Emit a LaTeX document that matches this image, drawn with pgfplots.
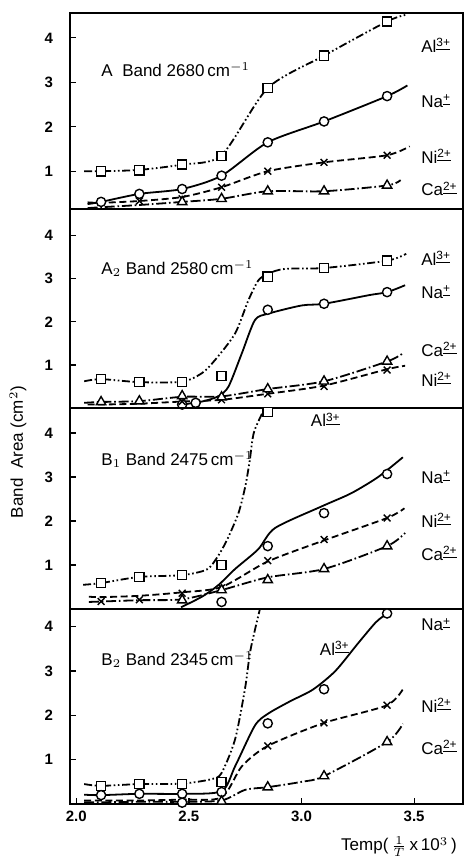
\documentclass[border=0pt]{standalone}
\usepackage{pgfplots}
\pgfplotsset{compat=1.18}
\usepackage{fontspec}
\setmainfont{Liberation Sans}

\pgfplotsset{
  panel/.style={
    scale only axis, width=196.5pt,
    xmin=1.972, xmax=3.717,
    ytick={1,2,3,4}, ytick pos=left, tick align=inside,
    major tick length=3pt,
    yticklabel style={font=\fontsize{7.5}{8}\selectfont\bfseries, xshift=-5pt},
    /pgf/number format/assume math mode=true,
    axis line style={line width=0.9pt},
    every tick/.style={line width=0.6pt, black},
    clip=true,
  },
  curve/.style={line width=0.9pt, smooth, tension=0.45, no marks},
  al/.style={dash pattern=on 4pt off 1.3pt on 0.8pt off 1.3pt on 0.8pt off 1.3pt},
  na/.style={solid},
  ni/.style={dash pattern=on 3.5pt off 1.8pt},
  ca/.style={dash pattern=on 5pt off 1.4pt on 0.8pt off 1.4pt},
  pts/.style={only marks, mark options={solid, fill=white, line width=0.7pt}},
  sq/.style={pts, mark=square*, mark size=2.3pt},
  ci/.style={pts, mark=*, mark size=2.3pt},
  tr/.style={pts, mark=triangle*, mark size=2.7pt},
  cr/.style={pts, mark=x, mark size=2.4pt},
}
\tikzset{lab/.style={anchor=west, font=\fontsize{8.5}{10}\selectfont, inner sep=0pt}}

\newcommand{\ion}[2]{#1\textsuperscript{\underline{#2}}}

\begin{document}
\begin{tikzpicture}
\path[use as bounding box] (-35pt,6.5pt) rectangle (198.5pt,-426.5pt);

%% Panel A
\begin{axis}[panel, at={(0,0)}, anchor=north west, height=98pt,
  ymin=0.15, ymax=4.56, xtick=\empty]
\addplot[curve, al] table {
2.035 1.00
2.11 1.00
2.28 1.03
2.47 1.15
2.645 1.36
2.85 2.87
3.10 3.60
3.38 4.37
3.465 4.52
};
\addplot[sq] table {
2.11 1.00
2.28 1.02
2.47 1.15
2.645 1.34
2.85 2.87
3.10 3.60
3.38 4.37
};
\addplot[curve, na] table {
2.05 0.26
2.11 0.31
2.28 0.49
2.47 0.60
2.645 0.90
2.85 1.65
3.10 2.12
3.38 2.69
3.47 2.93
};
\addplot[ci] table {
2.11 0.31
2.28 0.49
2.47 0.60
2.645 0.90
2.85 1.65
3.10 2.12
3.38 2.69
};
\addplot[curve, ni] table {
2.05 0.30
2.11 0.29
2.28 0.33
2.47 0.42
2.645 0.64
2.85 1.00
3.10 1.20
3.38 1.36
3.48 1.56
};
\addplot[cr] table {
2.28 0.33
2.47 0.38
2.645 0.64
2.85 1.00
3.10 1.20
3.38 1.36
};
\addplot[curve, ca] table {
2.05 0.17
2.11 0.19
2.28 0.24
2.47 0.31
2.645 0.38
2.85 0.55
3.10 0.55
3.38 0.68
3.44 0.80
};
\addplot[tr] table {
2.47 0.31
2.645 0.38
2.85 0.55
3.10 0.55
3.38 0.68
};
\node[lab] at (axis cs:2.11,3.28) {A\ \ Band 2680\,cm$^{-1}$};
\node[lab] at (axis cs:3.53,3.84) {\ion{Al}{3+}};
\node[lab] at (axis cs:3.53,2.57) {\ion{Na}{+}};
\node[lab] at (axis cs:3.53,1.34) {\ion{Ni}{2+}};
\node[lab] at (axis cs:3.53,0.60) {\ion{Ca}{2+}};
\end{axis}

%% Panel A2
\begin{axis}[panel, at={(0,-98pt)}, anchor=north west, height=99.5pt,
  ymin=0, ymax=4.62, xtick=\empty]
\addplot[curve, al] table {
2.035 0.62
2.11 0.67
2.28 0.60
2.47 0.61
2.558 0.81
2.617 1.12
2.705 1.73
2.764 2.50
2.808 2.96
2.852 3.12
2.926 3.23
3.10 3.25
3.38 3.42
3.465 3.58
};
\addplot[sq] table {
2.11 0.67
2.28 0.60
2.47 0.60
2.645 0.74
2.85 3.05
3.10 3.25
3.38 3.42
};
\addplot[curve, na] table {
2.47 0.08
2.558 0.15
2.63 0.27
2.676 0.50
2.735 1.27
2.793 2.04
2.852 2.19
3.00 2.38
3.10 2.42
3.30 2.62
3.38 2.69
3.46 2.85
};
\addplot[ci] table {
2.47 0.08
2.53 0.12
2.85 2.28
3.10 2.42
3.38 2.69
};
\addplot[curve, ni] table {
2.05 0.08
2.11 0.08
2.28 0.10
2.47 0.15
2.645 0.19
2.85 0.33
3.10 0.52
3.38 0.90
3.46 0.98
};
\addplot[cr] table {
2.47 0.15
2.645 0.19
2.85 0.33
3.10 0.50
3.38 0.88
};
\addplot[curve, ca] table {
2.035 0.12
2.11 0.14
2.28 0.16
2.47 0.26
2.645 0.27
2.85 0.44
3.10 0.62
3.38 1.08
3.45 1.27
};
\addplot[tr] table {
2.11 0.14
2.28 0.16
2.47 0.28
2.645 0.25
2.85 0.44
3.10 0.62
3.38 1.08
};
\node[lab] at (axis cs:2.11,3.24) {A$_2$ Band 2580\,cm$^{-1}$};
\node[lab] at (axis cs:3.53,3.47) {\ion{Al}{3+}};
\node[lab] at (axis cs:3.53,2.69) {\ion{Na}{+}};
\node[lab] at (axis cs:3.53,1.36) {\ion{Ca}{2+}};
\node[lab] at (axis cs:3.53,0.67) {\ion{Ni}{2+}};
\end{axis}

%% Panel B1
\begin{axis}[panel, at={(0,-197.5pt)}, anchor=north west, height=100.5pt,
  ymin=0, ymax=4.57, xtick=\empty]
\addplot[curve, al] table {
2.03 0.55
2.11 0.59
2.28 0.73
2.47 0.77
2.58 0.90
2.63 1.21
2.67 1.58
2.72 2.18
2.75 2.78
2.77 3.37
2.79 4.04
2.85 4.70
};
\addplot[sq] table {
2.11 0.59
2.28 0.73
2.47 0.77
2.645 1.00
2.85 4.48
};
\addplot[curve, na] table {
2.465 0.04
2.558 0.28
2.63 0.54
2.705 0.91
2.808 1.36
2.882 1.84
3.088 2.33
3.22 2.63
3.34 3.00
3.45 3.45
};
\addplot[ci] table {
2.645 0.16
2.85 1.43
3.10 2.18
3.38 3.07
};
\addplot[curve, ni] table {
2.056 0.28
2.11 0.27
2.28 0.30
2.47 0.38
2.645 0.50
2.85 1.08
3.10 1.56
3.38 2.07
3.457 2.29
};
\addplot[cr] table {
2.11 0.17
2.28 0.21
2.47 0.36
2.645 0.48
2.85 1.10
3.10 1.58
3.38 2.07
};
\addplot[curve, ca] table {
2.056 0.16
2.11 0.17
2.28 0.20
2.47 0.22
2.645 0.43
2.85 0.72
3.10 0.91
3.38 1.43
3.46 1.73
};
\addplot[tr] table {
2.47 0.20
2.645 0.43
2.85 0.66
3.10 0.91
3.38 1.43
};
\node[lab] at (axis cs:2.11,3.39) {B$_1$ Band 2475\,cm$^{-1}$};
\node[lab] at (axis cs:3.04,4.30) {\ion{Al}{3+}};
\node[lab] at (axis cs:3.53,3.00) {\ion{Na}{+}};
\node[lab] at (axis cs:3.53,2.02) {\ion{Ni}{2+}};
\node[lab] at (axis cs:3.53,1.27) {\ion{Ca}{2+}};
\end{axis}

%% Panel B2
\begin{axis}[panel, at={(0,-298pt)}, anchor=north west, height=97.5pt,
  ymin=0, ymax=4.4,
  xtick={2.0,2.5,3.0,3.5}, xtick pos=bottom,
  xticklabel style={font=\fontsize{7.5}{8}\selectfont\bfseries,
    /pgf/number format/.cd, fixed, fixed zerofill, precision=1},
  xlabel={Temp(\,$\frac{1}{T}$\,x\,10$^3$\,)},
  xlabel style={at={(rel axis cs:0.985,0)}, anchor=north east,
    yshift=-16pt, font=\fontsize{8.5}{10}\selectfont, inner sep=0pt}]
\addplot[curve, al] table {
2.035 0.45
2.11 0.41
2.28 0.45
2.47 0.46
2.60 0.56
2.645 0.70
2.705 1.46
2.749 2.60
2.77 3.38
2.79 3.86
2.82 4.50
};
\addplot[sq] table {
2.11 0.41
2.28 0.45
2.47 0.45
2.645 0.50
};
\addplot[curve, na] table {
2.035 0.21
2.11 0.20
2.28 0.23
2.47 0.23
2.645 0.29
2.705 0.85
2.793 1.77
2.852 2.04
2.95 2.32
3.05 2.58
3.15 3.00
3.25 3.62
3.33 4.10
3.38 4.30
};
\addplot[ci] table {
2.11 0.20
2.28 0.23
2.47 0.23
2.47 0.03
2.645 0.27
2.85 1.82
3.10 2.59
3.38 4.30
};
\addplot[curve, ni] table {
2.035 0.08
2.11 0.08
2.28 0.08
2.47 0.10
2.645 0.15
2.735 0.85
2.85 1.31
3.10 1.83
3.38 2.23
3.457 2.65
};
\addplot[cr] table {
2.85 1.31
3.10 1.83
3.38 2.23
};
\addplot[curve, ca] table {
2.035 0.04
2.11 0.04
2.28 0.05
2.47 0.05
2.645 0.08
2.75 0.32
2.85 0.38
3.00 0.50
3.10 0.63
3.38 1.40
3.45 1.81
};
\addplot[tr] table {
2.645 0.06
2.85 0.38
3.10 0.63
3.38 1.40
};
\node[lab] at (axis cs:2.11,3.25) {B$_2$ Band 2345\,cm$^{-1}$};
\node[lab] at (axis cs:3.08,3.52) {\ion{Al}{3+}};
\node[lab] at (axis cs:3.53,4.05) {\ion{Na}{+}};
\node[lab] at (axis cs:3.53,2.23) {\ion{Ni}{2+}};
\node[lab] at (axis cs:3.53,1.27) {\ion{Ca}{2+}};
\end{axis}

\node[rotate=90, font=\fontsize{8.5}{10}\selectfont] at (-26pt,-219.5pt) {Band\ \ Area (cm$^2$)};
\end{tikzpicture}
\end{document}
